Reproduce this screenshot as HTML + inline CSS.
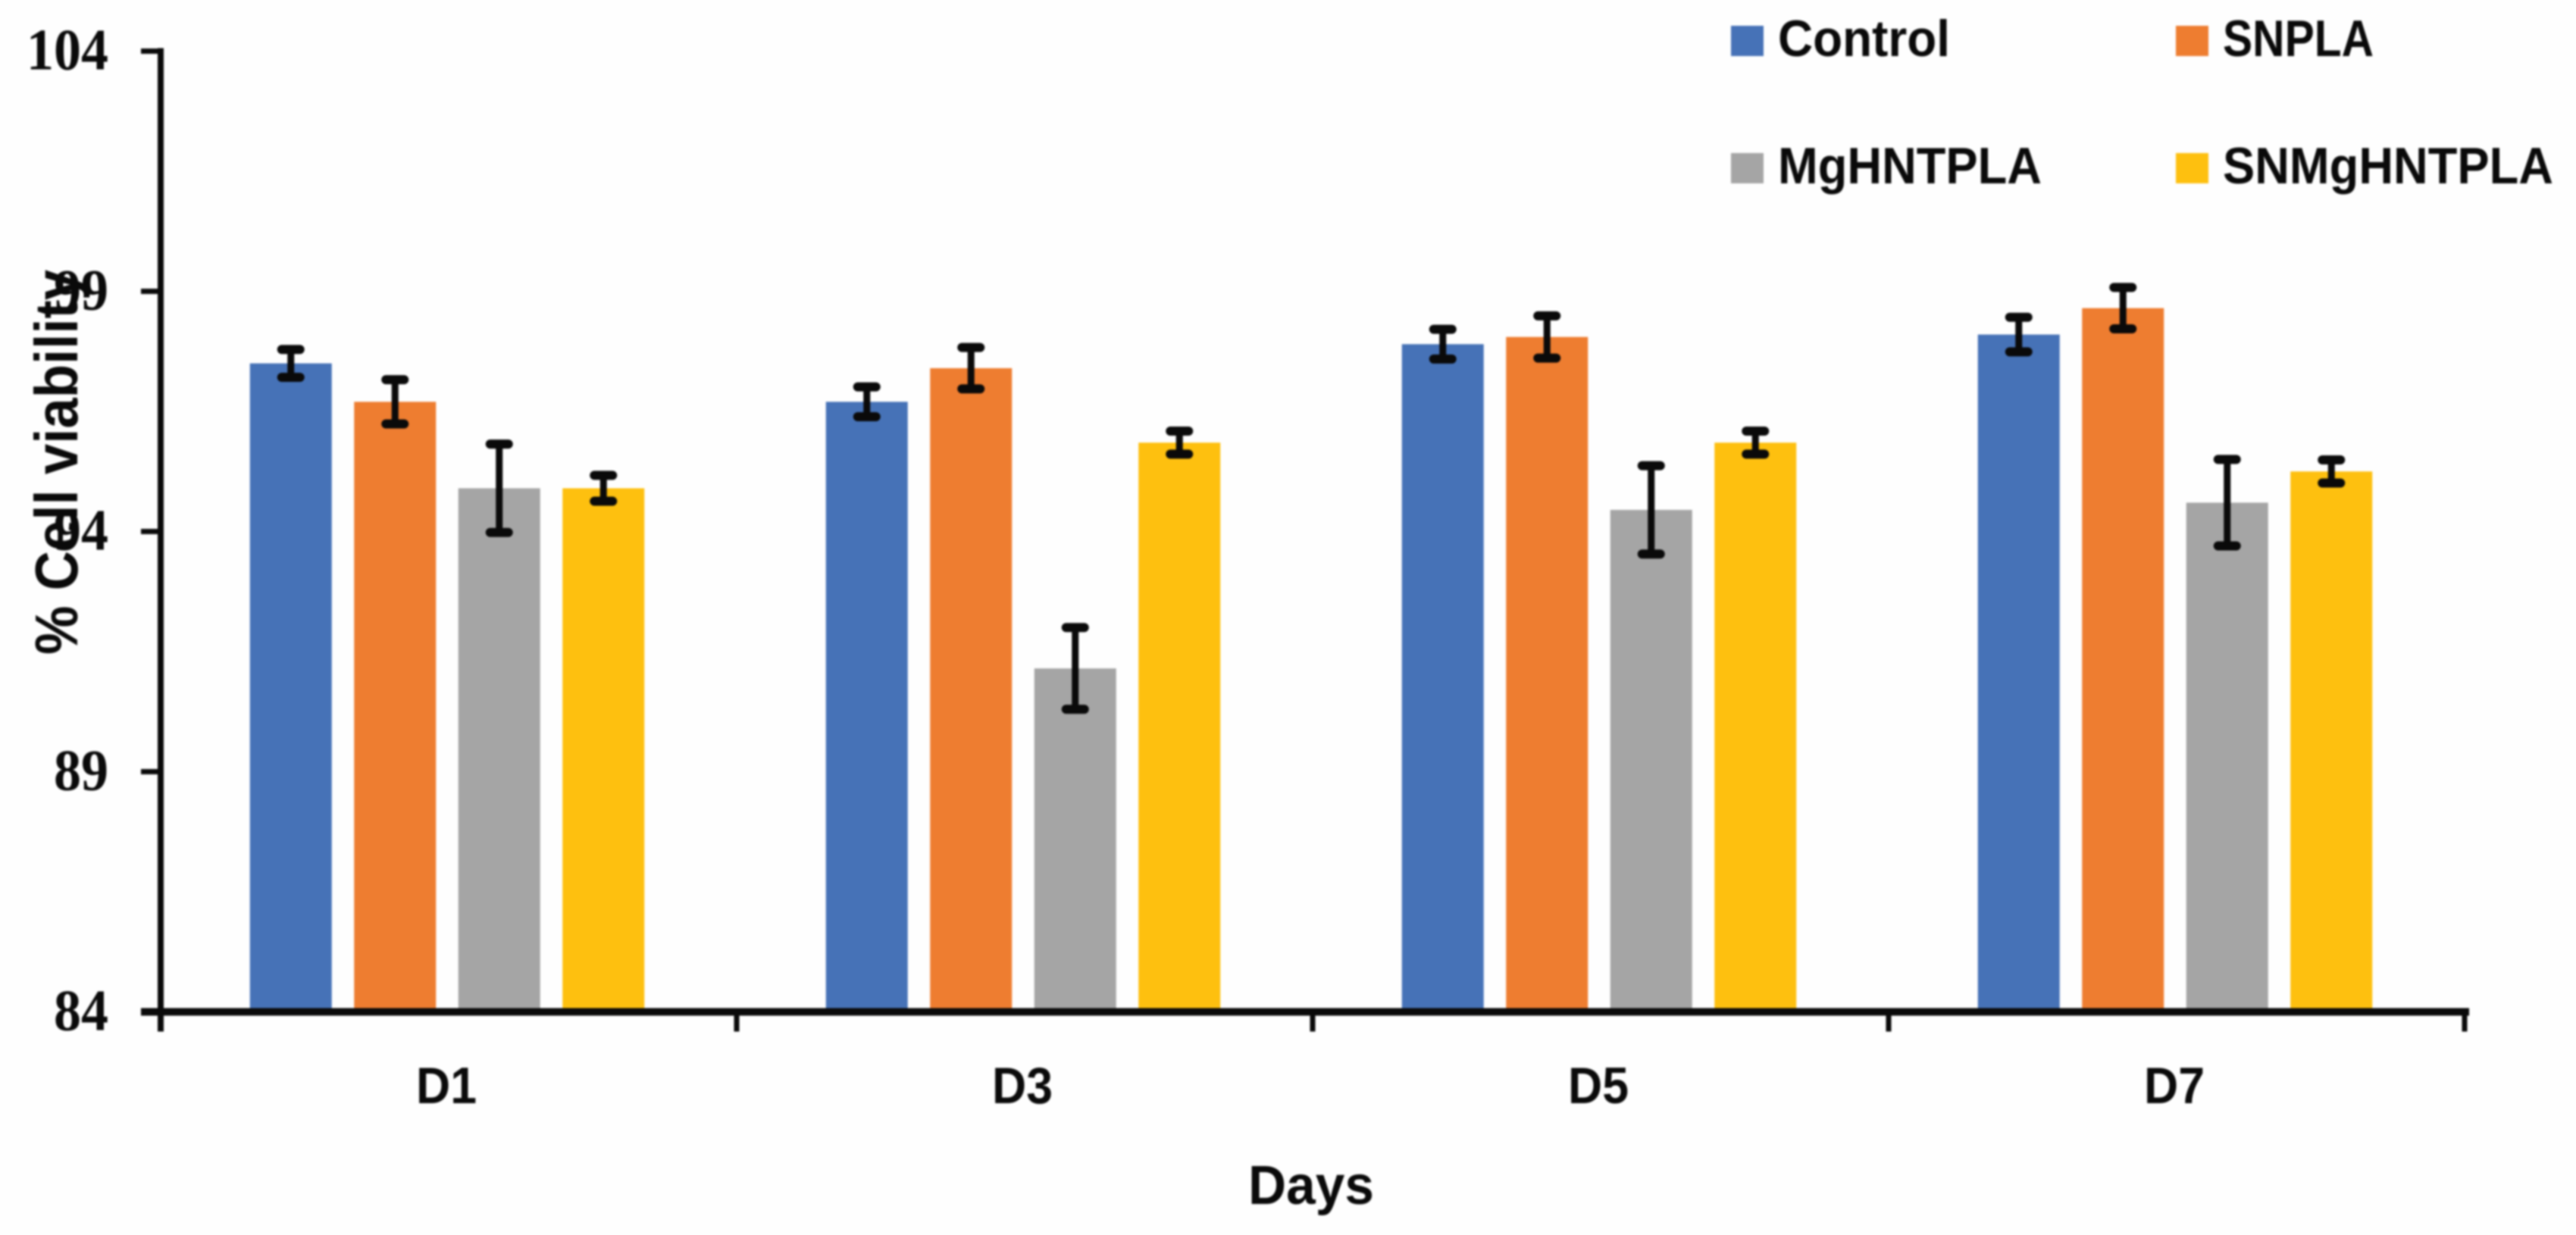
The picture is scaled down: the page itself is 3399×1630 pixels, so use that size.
<!DOCTYPE html>
<html lang="en">
<head>
<meta charset="utf-8">
<title>Cell viability chart</title>
<style>
  html, body { margin: 0; padding: 0; background: #fefefe; }
  svg { display: block; filter: blur(1.2px); }
  .tick-label { font-family: "Liberation Serif", serif; font-weight: bold; font-size: 77px; fill: #0a0a0a; }
  .sans { font-family: "Liberation Sans", sans-serif; font-weight: bold; fill: #0a0a0a; }
</style>
</head>
<body>
<svg id="chart" xmlns="http://www.w3.org/2000/svg" width="3399" height="1630" viewBox="0 0 3399 1630">
  <rect x="0" y="0" width="3399" height="1630" fill="#fefefe"/>
  <text class="sans" font-size="80" transform="translate(102,864) rotate(-90)" textLength="508" lengthAdjust="spacingAndGlyphs">% Cell viability</text>
  <text class="sans" font-size="72" x="1730" y="1589" text-anchor="middle" textLength="166" lengthAdjust="spacingAndGlyphs">Days</text>
</svg>
<script>
const categories = ['D1', 'D3', 'D5', 'D7'];
const seriesNames = ['Control', 'SNPLA', 'MgHNTPLA', 'SNMgHNTPLA'];
const seriesColors = ['#4672b7', '#ee7d30', '#a5a5a5', '#fec00f'];
const controlValues = [97.5, 96.7, 97.9, 98.1];
const snplaValues = [96.7, 97.4, 98.05, 98.65];
const mghntplaValues = [94.9, 91.15, 94.45, 94.6];
const snmghntplaValues = [94.9, 95.85, 95.85, 95.25];
const controlErrors = [0.29, 0.31, 0.31, 0.36];
const snplaErrors = [0.46, 0.43, 0.44, 0.43];
const mghntplaErrors = [0.92, 0.85, 0.92, 0.9];
const snmghntplaErrors = [0.27, 0.24, 0.24, 0.24];
const yTickLabels = [84, 89, 94, 99, 104];

const seriesValues = [controlValues, snplaValues, mghntplaValues, snmghntplaValues];
const seriesErrors = [controlErrors, snplaErrors, mghntplaErrors, snmghntplaErrors];

const NS = 'http://www.w3.org/2000/svg';
const svg = document.getElementById('chart');
const plotLeft = 212;
const plotRight = 3252;
const yBase = 1335.5;
const yPerUnit = 63.4;
const barWidth = 108;
const barPitch = 137.5;

function yScale(v) {
  return yBase - (v - yTickLabels[0]) * yPerUnit;
}
function bandWidth() {
  return (plotRight - plotLeft) / categories.length;
}
function xCenter(i) {
  return plotLeft + (i + 0.5) * bandWidth() - 2;
}
function xBar(i, s) {
  return xCenter(i) + (s - (seriesNames.length - 1) / 2) * barPitch - barWidth / 2;
}
function make(tag, attrs, parent) {
  const el = document.createElementNS(NS, tag);
  for (const k in attrs) el.setAttribute(k, attrs[k]);
  (parent || svg).appendChild(el);
  return el;
}
function slug(text) {
  return text.toLowerCase();
}

/* bars */
seriesNames.forEach(function (name, s) {
  categories.forEach(function (cat, i) {
    const v = seriesValues[s][i];
    const top = yScale(v);
    const bar = make('rect', { x: xBar(i, s), y: top, width: barWidth, height: yBase - top, fill: seriesColors[s] });
    
    
  });
});

/* error bars */
seriesNames.forEach(function (name, s) {
  categories.forEach(function (cat, i) {
    const v = seriesValues[s][i];
    const e = seriesErrors[s][i];
    const cx = xBar(i, s) + barWidth / 2;
    const hi = yScale(v + e);
    const lo = yScale(v - e);
    const g = make('g', { stroke: '#0a0a0a', fill: 'none' });
    
    
    make('line', { x1: cx, x2: cx, y1: hi, y2: lo, 'stroke-width': 9 }, g);
    make('line', { x1: cx - 12, x2: cx + 12, y1: hi, y2: hi, 'stroke-width': 12, 'stroke-linecap': 'round' }, g);
    make('line', { x1: cx - 12, x2: cx + 12, y1: lo, y2: lo, 'stroke-width': 12, 'stroke-linecap': 'round' }, g);
  });
});

/* y axis */
const yAxis = make('line', { x1: plotLeft, x2: plotLeft, y1: yScale(yTickLabels[yTickLabels.length - 1]) - 4, y2: yBase + 26, stroke: '#0a0a0a', 'stroke-width': 8 });



yTickLabels.forEach(function (t) {
  const y = yScale(t);
  const tick = make('line', { x1: plotLeft - 26, x2: plotLeft, y1: y, y2: y, stroke: '#0a0a0a', 'stroke-width': 7 });
  
  
  const label = make('text', { x: 143, y: y + 24, 'text-anchor': 'end', class: 'tick-label', textLength: String(t).length * 36, lengthAdjust: 'spacingAndGlyphs' });
  
  
  label.textContent = t;
});

/* x axis */
const xAxis = make('line', { x1: plotLeft - 26, x2: plotRight + 6, y1: yBase, y2: yBase, stroke: '#0a0a0a', 'stroke-width': 10 });



categories.forEach(function (cat, i) {
  const tx = plotLeft + (i + 1) * bandWidth();
  const tick = make('line', { x1: tx, x2: tx, y1: yBase, y2: yBase + 26, stroke: '#0a0a0a', 'stroke-width': 7 });
  
  
  const label = make('text', { x: xCenter(i) - 1, y: 1456, 'text-anchor': 'middle', class: 'sans', 'font-size': 68, textLength: 80, lengthAdjust: 'spacingAndGlyphs' });
  
  
  label.textContent = cat;
});

/* legend */
const legendCols = [2284, 2871];
const legendRows = [34, 202];
const legendTextWidths = [227, 199, 348, 436];
seriesNames.forEach(function (name, s) {
  const col = legendCols[s % 2];
  const row = legendRows[Math.floor(s / 2)];
  const g = make('g', {});
  
  
  const swatch = make('rect', { x: col, y: row, width: 43, height: 40, fill: seriesColors[s] }, g);
  
  
  const text = make('text', { x: col + 62, y: row + 40, class: 'sans', 'font-size': 68, textLength: legendTextWidths[s], lengthAdjust: 'spacingAndGlyphs' }, g);
  
  
  text.textContent = name;
});
</script>
</body>
</html>
